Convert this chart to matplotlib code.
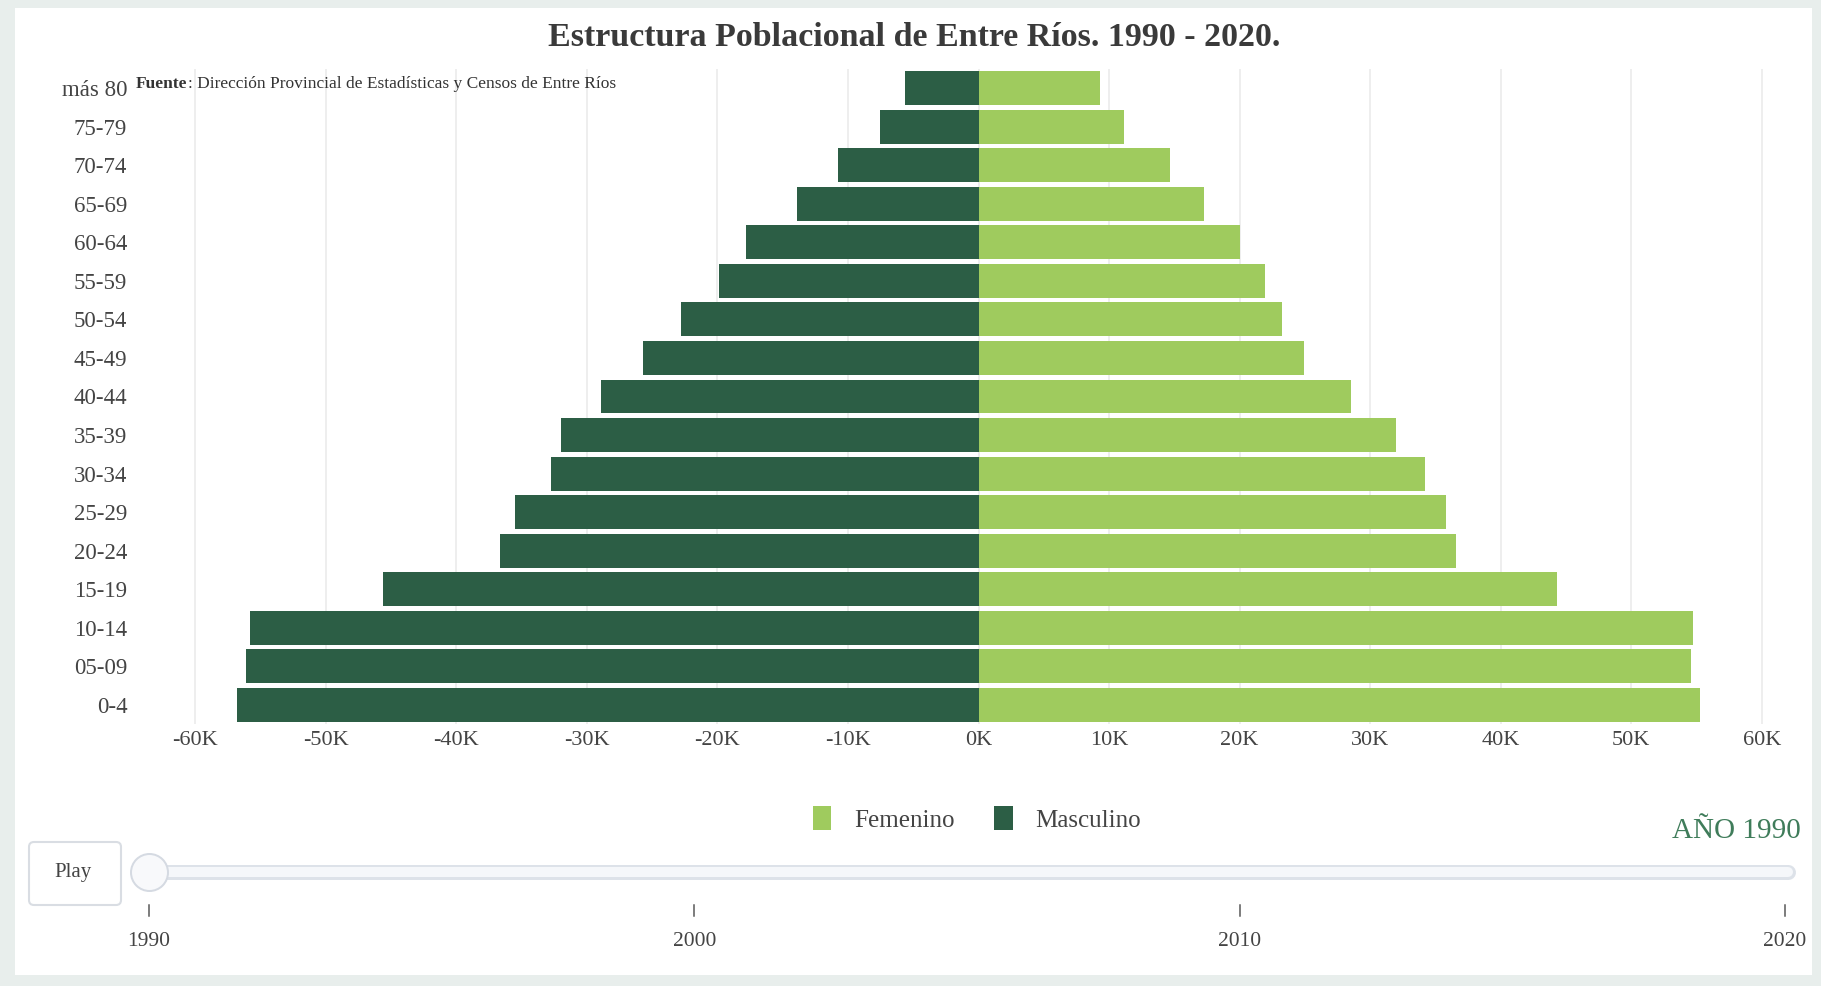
import matplotlib
matplotlib.use("Agg")
import matplotlib.pyplot as plt
from matplotlib.patches import FancyBboxPatch, Rectangle
import numpy as np

# ---------------- data ----------------
age_groups = ['0-4', '05-09', '10-14', '15-19', '20-24', '25-29', '30-34', '35-39',
              '40-44', '45-49', '50-54', '55-59', '60-64', '65-69', '70-74', '75-79', 'más 80']
masculino = [56760, 56140, 55780, 45640, 36650, 35500, 32740, 31940,
             28910, 25710, 22780, 19840, 17790, 13880, 10770, 7560, 5600]
femenino = [55250, 54540, 54720, 44310, 36570, 35770, 34160, 31940,
            28560, 24910, 23220, 21980, 20020, 17260, 14680, 11120, 9340]
x_ticks = [-60000, -50000, -40000, -30000, -20000, -10000, 0, 10000, 20000, 30000, 40000, 50000, 60000]
x_tick_labels = ['-60K', '-50K', '-40K', '-30K', '-20K', '-10K', '0K', '10K', '20K', '30K', '40K', '50K', '60K']
slider_years = [1990, 2000, 2010, 2020]
current_year = 1990

title = 'Estructura Poblacional de Entre Ríos. 1990 - 2020.'
source_bold = 'Fuente'
source_text = ': Dirección Provincial de Estadísticas y Censos de Entre Ríos'

# ---------------- style ----------------
W, H = 1821, 986
DPI = 100
SERIF = ['Liberation Serif', 'DejaVu Serif']
dark_green = '#2c5e45'
light_green = '#9fcb5e'
text_grey = '#444444'
bg_grey = '#e8eeec'

fig = plt.figure(figsize=(W / DPI, H / DPI), dpi=DPI, facecolor=bg_grey)

def fx(px):
    return px / W

def fy(py):
    return 1 - py / H

# background card + decorations axes (pixel coordinates)
bg = fig.add_axes([0, 0, 1, 1], zorder=-10)
bg.set_xlim(0, W)
bg.set_ylim(H, 0)
bg.axis('off')
bg.add_patch(Rectangle((15, 8), 1797, 967, facecolor='white', edgecolor='none'))
# Play button
bg.add_patch(FancyBboxPatch((29, 842), 92, 63, boxstyle='round,pad=0,rounding_size=5',
                            facecolor='white', edgecolor='#d9dde3', linewidth=1.5))
bg.text(73, 872, 'Play', ha='center', va='center', fontsize=15, color=text_grey, family=SERIF)

# ---------------- main pyramid ----------------
ax = fig.add_axes([fx(169), fy(724), fx(1788) - fx(169), fy(69) - fy(724)])
ax.set_facecolor('none')
y = np.arange(len(age_groups))
bar_h = 0.88
ax.barh(y, femenino, height=bar_h, color=light_green, label='Femenino', zorder=3)
ax.barh(y, [-v for v in masculino], height=bar_h, color=dark_green, label='Masculino', zorder=3)
ax.set_xlim(-62000, 62000)
ax.set_ylim(-0.5, len(age_groups) - 0.5)
ax.set_xticks(x_ticks)
ax.set_xticklabels(x_tick_labels)
ax.set_yticks(y)
ax.set_yticklabels(age_groups)
ax.tick_params(axis='x', length=0, labelsize=16, labelcolor=text_grey, pad=5)
ax.tick_params(axis='y', length=0, labelsize=16.5, labelcolor=text_grey, pad=30)
for lab in ax.get_xticklabels() + ax.get_yticklabels():
    lab.set_family(SERIF)
ax.grid(axis='x', color='#ebebeb', linewidth=1.2, zorder=0)
ax.grid(axis='y', visible=False)
for s in ax.spines.values():
    s.set_visible(False)

# title and source
fig.text(fx(914), fy(38), title, ha='center', va='center', fontsize=24.5, fontweight='bold',
         color='#3a3a3a', family=SERIF)
t1 = fig.text(fx(136), fy(84), source_bold, ha='left', va='center', fontsize=12.5,
              fontweight='bold', color='#333333', family=SERIF)
fig.canvas.draw()
bb = t1.get_window_extent()
fig.text(bb.x1 / W, fy(84), source_text, ha='left', va='center', fontsize=12.5,
         color='#333333', family=SERIF)

# legend
handles, labels = ax.get_legend_handles_labels()
leg = fig.legend(handles, labels, loc='center', bbox_to_anchor=(fx(977), fy(819)), ncol=2,
                 frameon=False, prop={'family': SERIF, 'size': 18}, handlelength=0.75,
                 handleheight=1.1, columnspacing=1.6, handletextpad=0.9)
for t in leg.get_texts():
    t.set_color(text_grey)

# year label
fig.text(fx(1801), fy(831), 'AÑO %d' % current_year, ha='right', va='center', fontsize=21,
         color='#3f7c5a', family=SERIF)

# ---------------- slider ----------------
sl = fig.add_axes([fx(149), fy(965), fx(1785) - fx(149), fy(835) - fy(965)], zorder=2)
sl.set_facecolor('none')
sl.set_xlim(slider_years[0], slider_years[-1])
sl.set_ylim(965, 835)
sl.axis('off')
pt = 72 / DPI
sl.plot([slider_years[0], slider_years[-1] + 0.05], [872, 872], color='#dde2e9',
        linewidth=15 * pt, solid_capstyle='round', clip_on=False)
sl.plot([slider_years[0], slider_years[-1] + 0.05], [872, 872], color='#f5f7fa',
        linewidth=10 * pt, solid_capstyle='round', clip_on=False)
sl.plot([current_year], [872], marker='o', markersize=37 * pt, markerfacecolor='#f8f9fb',
        markeredgecolor='#d5dae2', markeredgewidth=2 * pt, clip_on=False, zorder=5)
for yr in slider_years:
    sl.plot([yr, yr], [905, 916], color='#555555', linewidth=1.5 * pt, clip_on=False)
    sl.text(yr, 941, str(yr), ha='center', va='center', fontsize=15.5, color=text_grey,
            family=SERIF, clip_on=False)

fig.savefig('out.png', dpi=DPI, facecolor=fig.get_facecolor())
